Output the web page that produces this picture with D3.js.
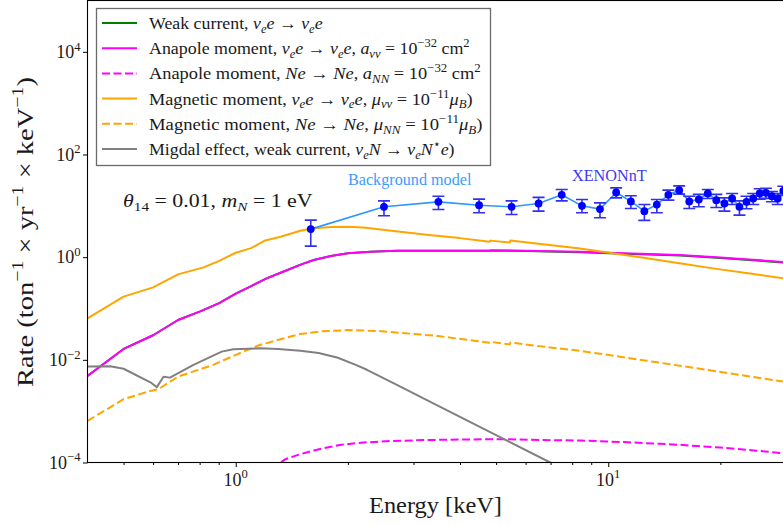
<!DOCTYPE html>
<html><head><meta charset="utf-8">
<script src="https://cdn.jsdelivr.net/npm/d3@7"></script>
<style>
body{margin:0;background:#fff}
svg{display:block}
svg text{font-family:'Liberation Serif','Times New Roman',serif;fill:#1a1a1a;white-space:pre}
</style>
</head><body>
<svg id="chart" width="783" height="525"></svg>
<script>
// ---------- DATA ----------
const magneticE  = [0.4,0.5,0.6,0.7,0.82,0.9,1.0,1.1,1.2,1.32,1.49,1.6,1.8,2.0,2.2,2.45,2.8,3.3,4.0,4.8,4.82,5.44,5.46,6.5,8.4,10.5,12.7,16,19.1,24,30];
const magneticNu = [0.0644,0.170,0.258,0.462,0.633,0.84,1.22,1.50,2.12,2.49,3.26,3.62,3.85,3.90,3.78,3.47,3.08,2.69,2.35,2.0,2.1,1.93,2.12,1.83,1.48,1.165,0.95,0.736,0.605,0.479,0.38];

const magneticNE = [0.4,0.5,0.59,0.62,0.7,0.87,1.0,1.16,1.49,1.7,2.0,2.4,3.0,3.5,4.8,4.82,5.44,5.46,6.5,8.4,12.7,19.1,30];
const magneticNN = [6.47e-4,1.71e-3,2.48e-3,2.68e-3,4.71e-3,7.96e-3,0.0125,0.0195,0.0319,0.036,0.038,0.0365,0.032,0.029,0.0215,0.0225,0.0200,0.0218,0.0185,0.0150,0.0096,0.0061,0.0037];

const anapoleE  = [0.4,0.5,0.6,0.7,0.8,0.9,1.0,1.1,1.21,1.34,1.5,1.62,1.8,2.0,2.3,2.7,3.5,4.8,4.82,6,8.4,11,15.6,20,25,30];
const anapoleNu = [0.00486,0.0163,0.0301,0.0597,0.0867,0.126,0.195,0.274,0.387,0.52,0.724,0.88,1.05,1.19,1.28,1.33,1.34,1.33,1.36,1.34,1.27,1.19,1.10,0.98,0.88,0.80];
const weakNu    = [0.00486,0.0163,0.0301,0.0597,0.0867,0.126,0.195,0.274,0.387,0.52,0.724,0.88,1.05,1.19,1.28,1.33,1.34,1.33,1.34,1.32,1.25,1.17,1.08,0.96,0.86,0.78];

const anapoleNE = [1.25,1.32,1.36,1.47,1.62,1.9,2.2,2.6,3.2,4.0,5.3,6.6,8.4,11,13.8,15.6,20,25,30];
const anapoleNN = [7.5e-5,1.0e-4,1.16e-4,1.41e-4,1.72e-4,2.2e-4,2.45e-4,2.62e-4,2.73e-4,2.8e-4,2.85e-4,2.74e-4,2.68e-4,2.5e-4,2.31e-4,2.21e-4,1.95e-4,1.7e-4,1.5e-4];

const migdalE  = [0.4,0.46,0.5,0.59,0.614,0.64,0.666,0.77,0.917,0.985,1.16,1.3,1.49,1.67,1.88,2.1,2.25,2.7,3.25,4.0,5.0,6.98,8];
const migdalNu = [7.38e-3,7.5e-3,6.7e-3,3.65e-3,2.94e-3,4.7e-3,4.5e-3,7.96e-3,0.01445,0.0161,0.0168,0.0163,0.0151,0.01355,0.011,0.0080,0.0064,0.00328,0.00166,7.75e-4,3.41e-4,1.0e-4,6.0e-5];

const xenonE  = [1.59,2.5,3.5,4.5,5.5,6.5,7.5,8.5,9.5,10.5,11.5,12.5,13.5,14.5,15.5,16.5,17.5,18.5,19.5,20.5,21.5,22.5,23.5,24.5,25.5,26.5,27.5,28.5,29.5];
const xenonNu = [3.52,9.57,11.96,10.3,9.57,11.1,16.4,10.0,8.63,18.2,12.2,7.88,10.6,16.4,20.2,12.2,13.3,17.4,12.9,11.1,13.9,9.57,11.96,13.9,17.4,17.9,15.4,13.9,19.6];
const xenonHi = [5.27,12.5,15.4,13.5,12.5,14.6,20.8,13.3,11.4,22.4,15.7,10.6,13.3,20.2,24.5,15.4,16.7,20.8,16.7,14.3,17.4,12.5,15.4,17.4,21.5,22.0,19.0,17.4,24.0];
const xenonLo = [1.64,6.39,8.51,7.31,6.80,7.88,12.5,7.31,5.84,14.3,8.9,5.2,7.31,12.9,16.9,8.9,9.57,13.9,9.31,7.88,10.6,6.59,8.75,10.6,13.5,14.0,12.0,10.6,16.0];
const backgroundNu = [3.52,9.57,11.96,10.3,9.57,11.1,16.4,10.0,8.63,18.2,12.2,7.88,10.6,16.4,20.2,12.2,13.3,17.4,12.9,11.1,13.9,9.57,11.96,13.9,17.4,17.9,15.4,13.9,19.6];

const xMajor = [1,10];
const xMinor = [0.5,0.6,0.7,0.8,0.9,2,3,4,5,6,7,8,9,20,30];
const xTickLabels = ["10^{0}","10^{1}"];
const yMajor = [1e-4,1e-2,1,1e2,1e4];
const yTickLabels = ["10^{−4}","10^{−2}","10^{0}","10^{2}","10^{4}"];

const legendLabels = [
  "Weak current, $ν_{e}e$ → $ν_{e}e$",
  "Anapole moment, $ν_{e}e$ → $ν_{e}e$, $a_{νν}$ = 10^{−32} cm^{2}",
  "Anapole moment, $Ne$ → $Ne$, $a_{NN}$ = 10^{−32} cm^{2}",
  "Magnetic moment, $ν_{e}e$ → $ν_{e}e$, $μ_{νν}$ = 10^{−11}$μ_{B}$)",
  "Magnetic moment, $Ne$ → $Ne$, $μ_{NN}$ = 10^{−11}$μ_{B}$)",
  "Migdal effect, weak current, $ν_{e}N$ → $ν_{e}N^{⋆}e$)"
];

// ---------- LAYOUT ----------
const FONT = "'Liberation Serif','Times New Roman',serif";
const L = 87.5, R = 786, T = 0.5, B = 462.5;
const svg = d3.select("#chart");
const x = d3.scaleLog().domain([0.4, 30]).range([L, R]);
const y = d3.scaleLog().domain([1e-4, 1e5]).range([B, T]);

svg.append("defs").append("clipPath").attr("id","clip")
  .append("rect").attr("x",L).attr("y",T).attr("width",R-L).attr("height",B-T);

// rich text helper: $..$ = math italics, _{..} subscript, ^{..} superscript
function richText(parent, str, fs, anchor) {
  const t = parent.append("text").attr("text-anchor", anchor || "start")
    .attr("font-family", FONT).attr("font-size", fs);
  const toks = []; let math = false, level = 0; const stack = [];
  for (let i = 0; i < str.length; i++) {
    const c = str[i];
    if (c === "$") { math = !math; continue; }
    if ((c === "_" || c === "^") && str[i+1] === "{") { stack.push(level); level = c === "_" ? -1 : 1; i++; continue; }
    if (c === "}" && stack.length) { level = stack.pop(); continue; }
    const it = math && /[A-Za-zα-ωΑ-Ω]/.test(c);
    const last = toks[toks.length-1];
    if (last && last.it === it && last.level === level) last.s += c;
    else toks.push({s:c, it, level});
  }
  let cur = 0;
  toks.forEach(g => {
    const off = g.level === -1 ? 0.22*fs : g.level === 1 ? -0.4*fs : 0;
    const ts = t.append("tspan").attr("dy", off - cur).text(g.s);
    if (g.level) ts.attr("font-size", fs*0.7);
    if (g.it) ts.attr("font-style", "italic");
    cur = off;
  });
  return t;
}
function placed(parent, str, fs, anchor, px, py, targetW, rotate) {
  const g = parent.append("g");
  const inner = g.append("g");
  const t = richText(inner, str, fs, anchor);
  let k = 1;
  if (targetW) { const w = t.node().getBBox().width; if (w > 0) k = Math.max(0.8, Math.min(1.3, targetW / w)); }
  inner.attr("transform", `scale(${k},1)`);
  g.attr("transform", `translate(${px},${py})` + (rotate ? ` rotate(${rotate})` : ""));
  return t;
}

// ---------- CURVES ----------
const plot = svg.append("g").attr("clip-path","url(#clip)");
function curve(E, V, color, dash, w) {
  const line = d3.line().x((d,i)=>x(E[i])).y(d=>y(d));
  plot.append("path").datum(V).attr("d", line).attr("fill","none")
    .attr("stroke", color).attr("stroke-width", w || 2)
    .attr("stroke-dasharray", dash || null).attr("stroke-linejoin","round");
}
curve(anapoleE, weakNu, "#008000");
curve(anapoleE, anapoleNu, "#ff00ff");
curve(anapoleNE, anapoleNN, "#ff00ff", "8,3.5");
curve(magneticE, magneticNu, "#ffa500");
curve(magneticNE, magneticNN, "#ffa500", "8,3.5");
curve(migdalE, migdalNu, "#808080");

// background model + XENONnT
curve(xenonE, backgroundNu, "#2f95ff", null, 1.6);
const pts = plot.append("g");
xenonE.forEach((e,i) => {
  const cx = x(e);
  pts.append("line").attr("x1",cx).attr("x2",cx).attr("y1",y(xenonLo[i])).attr("y2",y(xenonHi[i]))
    .attr("stroke","#3030f0").attr("stroke-width",1.6);
  [xenonLo[i], xenonHi[i]].forEach(v => pts.append("line").attr("x1",cx-6).attr("x2",cx+6)
    .attr("y1",y(v)).attr("y2",y(v)).attr("stroke","#3030f0").attr("stroke-width",1.6));
});
pts.selectAll("circle").data(xenonNu).join("circle")
  .attr("cx",(d,i)=>x(xenonE[i])).attr("cy",d=>y(d)).attr("r",3.9).attr("fill","#0000ff");

// ---------- AXES ----------
svg.append("g").attr("transform",`translate(0,${B})`)
  .call(d3.axisBottom(x).tickValues(xMajor).tickFormat("").tickSizeInner(4.5).tickSizeOuter(0))
  .call(g=>g.select(".domain").remove()).selectAll("line").attr("stroke","#000");
svg.append("g").attr("transform",`translate(0,${B})`)
  .call(d3.axisBottom(x).tickValues(xMinor).tickFormat("").tickSizeInner(2.5).tickSizeOuter(0))
  .call(g=>g.select(".domain").remove()).selectAll("line").attr("stroke","#000");
svg.append("g").attr("transform",`translate(${L},0)`)
  .call(d3.axisLeft(y).tickValues(yMajor).tickFormat("").tickSizeInner(4.5).tickSizeOuter(0))
  .call(g=>g.select(".domain").remove()).selectAll("line").attr("stroke","#000");
svg.selectAll(".tick text").remove();
svg.append("rect").attr("x",L).attr("y",T).attr("width",R-L).attr("height",B-T)
  .attr("fill","none").attr("stroke","#000").attr("stroke-width",1.1);

xMajor.forEach((v,i)=> placed(svg, xTickLabels[i], 18, "middle", x(v), 485.5));
yMajor.forEach((v,i)=> placed(svg, yTickLabels[i], 18, "end", 80.5, y(v)+6));

placed(svg, "Energy [keV]", 24, "middle", 435.5, 512.5, 133);
placed(svg, "Rate (ton^{−1} × yr^{−1} × keV^{−1})", 24, "middle", 33, 232, 310, -90);

// ---------- ANNOTATIONS ----------
placed(svg, "$θ_{14}$ = 0.01, $m_{N}$ = 1 eV", 19, "start", 123, 207, 190);
placed(svg, "Background model", 16, "start", 348, 185, 124).style("fill","#3d9bff");
placed(svg, "XENONnT", 16, "start", 572, 181, 75).style("fill","#3a3af0");

// ---------- LEGEND ----------
const leg = svg.append("g");
leg.append("rect").attr("x",96.5).attr("y",8.5).attr("width",394).attr("height",157)
  .attr("fill","#fff").attr("stroke","#6b6b6b").attr("stroke-width",1.3);
const legStyles = [["#008000",null],["#ff00ff",null],["#ff00ff","8,3.5"],["#ffa500",null],["#ffa500","8,3.5"],["#808080",null]];
const legTargets = [174,321,332,324,334,306];
legendLabels.forEach((lab,i)=>{
  const cy = 23 + i*25.2;
  leg.append("line").attr("x1",102).attr("x2",137).attr("y1",cy).attr("y2",cy)
    .attr("stroke",legStyles[i][0]).attr("stroke-width",2).attr("stroke-dasharray",legStyles[i][1]);
  placed(leg, lab, 17.5, "start", 149, cy+6, legTargets[i]);
});
</script>
</body></html>
